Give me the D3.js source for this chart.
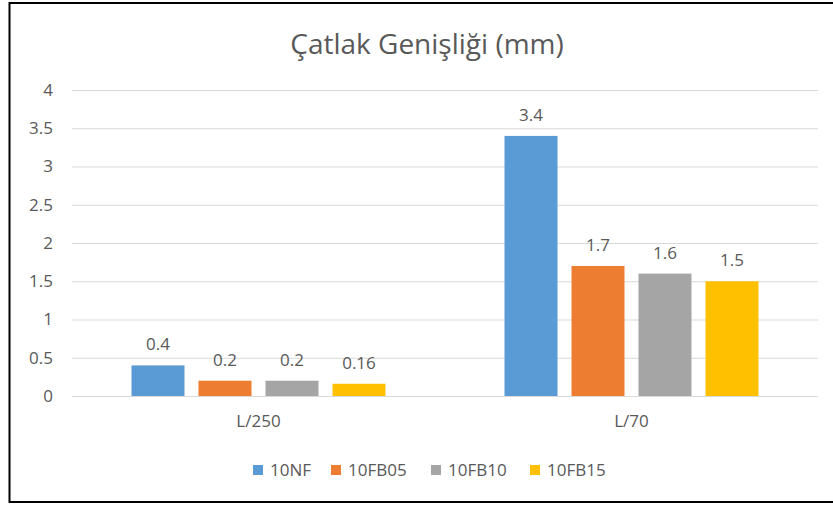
<!DOCTYPE html>
<html>
<head>
<meta charset="utf-8">
<script src="https://cdn.jsdelivr.net/npm/d3@7"></script>
<style>
	body { margin: 0; background: #fff; }
	svg { display: block; font-family: "Open Sans", sans-serif; }
</style>
</head>
<body>
<svg id="chart" width="833" height="506"></svg>
<script>
// chart data
var categories = ["L/250", "L/70"];
var seriesNames = ["10NF", "10FB05", "10FB10", "10FB15"];
var values10NF = [0.4, 3.4];
var values10FB05 = [0.2, 1.7];
var values10FB10 = [0.2, 1.6];
var values10FB15 = [0.16, 1.5];
var yTicks = [0, 0.5, 1, 1.5, 2, 2.5, 3, 3.5, 4];
var colors = ["#5b9bd5", "#ed7d31", "#a5a5a5", "#ffc000"];

var seriesValues = [values10NF, values10FB05, values10FB10, values10FB15];

var svg = d3.select("#chart"),
	plotLeft = 72,
	plotRight = 818,
	plotTop = 90,
	plotBottom = 396,
	fontSize = "17px",
	textColor = "#595959";

// frame (right side runs off the page)
svg.append("path")
	.attr("d", "M 845 3 L 9.5 3 L 9.5 502 L 845 502")
	.attr("fill", "none")
	.attr("stroke", "#000")
	.attr("stroke-width", 2);

svg.append("text")
	.attr("x", 427)
	.attr("y", 54)
	.attr("text-anchor", "middle")
	.attr("fill", textColor)
	.style("font-size", "28px")
	.text("Çatlak Genişliği (mm)");

var y = d3.scaleLinear().domain([0, 4]).range([plotBottom, plotTop]);

var x0 = d3.scaleBand()
	.domain(categories)
	.range([plotLeft, plotRight]);

// bars inside a group, centred on the category
var groupW = 254;
var x1 = d3.scaleBand()
	.domain(seriesNames)
	.range([-groupW / 2, groupW / 2])
	.paddingInner(14 / 67);

// gridlines + y labels
var yAxis = d3.axisLeft(y)
	.tickValues(yTicks)
	.tickSize(-(plotRight - plotLeft))
	.tickPadding(19)
	.tickFormat(d3.format(""));

var ya = svg.append("g")
	.attr("transform", "translate(" + plotLeft + ",0)")
	.call(yAxis);
ya.select(".domain").remove();
ya.selectAll("line").attr("stroke", "#d9d9d9").attr("stroke-width", 1);
ya.selectAll("text")
	.attr("fill", textColor)
	.style("font-size", fontSize)
	.style("font-family", "'Open Sans', sans-serif");

// x labels
var xAxis = d3.axisBottom(x0).tickSize(0).tickPadding(19);
var xa = svg.append("g")
	.attr("transform", "translate(0," + plotBottom + ")")
	.call(xAxis);
xa.select(".domain").remove();
xa.selectAll("text")
	.attr("fill", textColor)
	.style("font-size", fontSize)
	.style("font-family", "'Open Sans', sans-serif");

// bars
var groups = svg.selectAll("g.cat")
	.data(categories)
	.enter()
	.append("g")
	.attr("class", "cat")
	.attr("transform", function(d) { return "translate(" + (x0(d) + x0.bandwidth() / 2) + ",0)"; });

groups.each(function(cat, ci) {
	var g = d3.select(this);
	seriesNames.forEach(function(s, si) {
		var v = seriesValues[si][ci];
		g.append("rect")
			.attr("x", x1(s))
			.attr("y", y(v))
			.attr("width", x1.bandwidth())
			.attr("height", y(0) - y(v))
			.attr("fill", colors[si]);
		g.append("text")
			.attr("x", x1(s) + x1.bandwidth() / 2)
			.attr("y", y(v) - 15)
			.attr("text-anchor", "middle")
			.attr("fill", textColor)
			.style("font-size", fontSize)
			.text(v);
	});
});

// legend
var legendX = [253, 331, 431, 530];
var legend = svg.append("g").attr("class", "legend");
seriesNames.forEach(function(s, i) {
	legend.append("rect")
		.attr("x", legendX[i])
		.attr("y", 465)
		.attr("width", 10)
		.attr("height", 10)
		.attr("fill", colors[i]);
	legend.append("text")
		.attr("x", legendX[i] + 17)
		.attr("y", 476)
		.attr("fill", textColor)
		.style("font-size", fontSize)
		.text(s);
});
</script>
</body>
</html>
